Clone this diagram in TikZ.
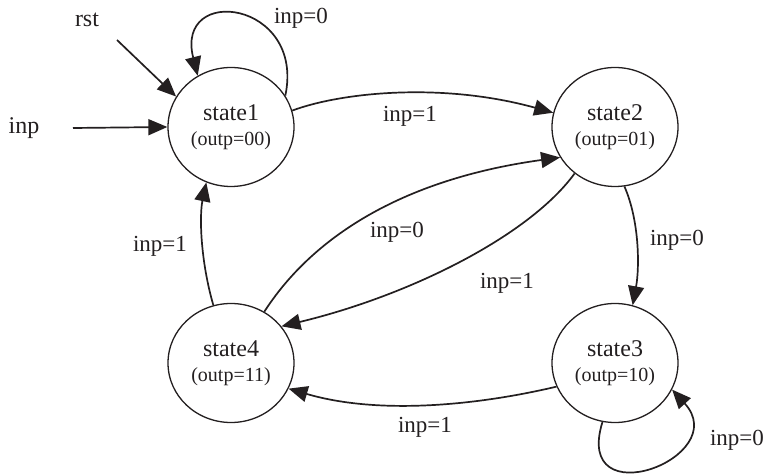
\documentclass[tikz,border=0pt]{standalone}
\usepackage{fontspec}
\setmainfont{Liberation Serif}
\usepackage{tikz}
\usetikzlibrary{positioning, shapes, arrows.meta, calc}
\definecolor{StateInk}{RGB}{35, 31, 32}

\tikzset{
  state/.style={ellipse, draw=StateInk, line width=0.65pt, minimum width=63pt, minimum height=59.5pt,
    inner sep=0pt, align=center, font=\fontsize{12}{14}\selectfont, text=StateInk},
  trans/.style={draw=StateInk, line width=0.85pt, -{Triangle[length=9.5pt, width=8pt]}},
  cond/.style={font=\fontsize{11.5}{13}\selectfont, text=StateInk, inner sep=1pt}
}
\newcommand{\outp}[1]{{\fontsize{10}{12}\selectfont (outp=#1)}}
\newcommand{\statetext}[2]{\raisebox{2pt}{\begin{tabular}{@{}c@{}}#1\\[-1.5pt]\outp{#2}\end{tabular}}}

\begin{document}
\begin{tikzpicture}[x=0.5pt, y=-0.5pt]
    \useasboundingbox (0,0) rectangle (765,475);

    % States
    \node[state] (s1) at (231,127) {\statetext{state1}{00}};
    \node[state] (s2) at (615,127) {\statetext{state2}{01}};
    \node[state] (s3) at (615,363) {\statetext{state3}{10}};
    \node[state] (s4) at (231,363) {\statetext{state4}{11}};

    % Inputs
    \node[cond, font=\fontsize{12}{14}\selectfont] (rst) at (87,20) {rst};
    \node[cond, font=\fontsize{12}{14}\selectfont] (inp) at (24,128) {inp};
    \coordinate (r0) at (117,40);
    \coordinate (i0) at (73,128);
    \draw[trans] (r0) -- (s1.151.8);
    \draw[trans] (i0) -- (s1.180);

    % Transitions
    \draw[trans] (s1.30.6) .. controls +(20,-95) and +(-23,-92) .. (s1.123.4);
    \draw[trans] (s1.15.6) .. controls +(48,-18) and +(-112,-31) .. (s2.167.5);
    \draw[trans] (s4.57.4) .. controls +(47,-73) and +(-160,22) .. (s2.209.4);
    \draw[trans] (s2.229) .. controls +(-45,62) and +(129,-31) .. (s4.36.5);
    \draw[trans] (s2.279.6) .. controls +(15,34) and +(7,-38) .. (s3.73.3);
    \draw[trans] (s3.202) .. controls +(-76,18) and +(92,27) .. (s4.336.3);
    \draw[trans] (s4.107.2) .. controls +(-13,-45) and +(-7,33) .. (s1.246.6);
    \draw[trans] (s3.258.5) .. controls +(-30,96) and +(62,68) .. (s3.335);

    % Labels
    \node[cond] (c11) at (301,18) {inp=0};
    \node[cond] (c12) at (410,116) {inp=1};
    \node[cond] (c42) at (397,232) {inp=0};
    \node[cond] (c24) at (507,283) {inp=1};
    \node[cond] (c23) at (677,240) {inp=0};
    \node[cond] (c34) at (425,427) {inp=1};
    \node[cond] (c41) at (160,246) {inp=1};
    \node[cond] (c33) at (737,440) {inp=0};
  \end{tikzpicture}
\end{document}
